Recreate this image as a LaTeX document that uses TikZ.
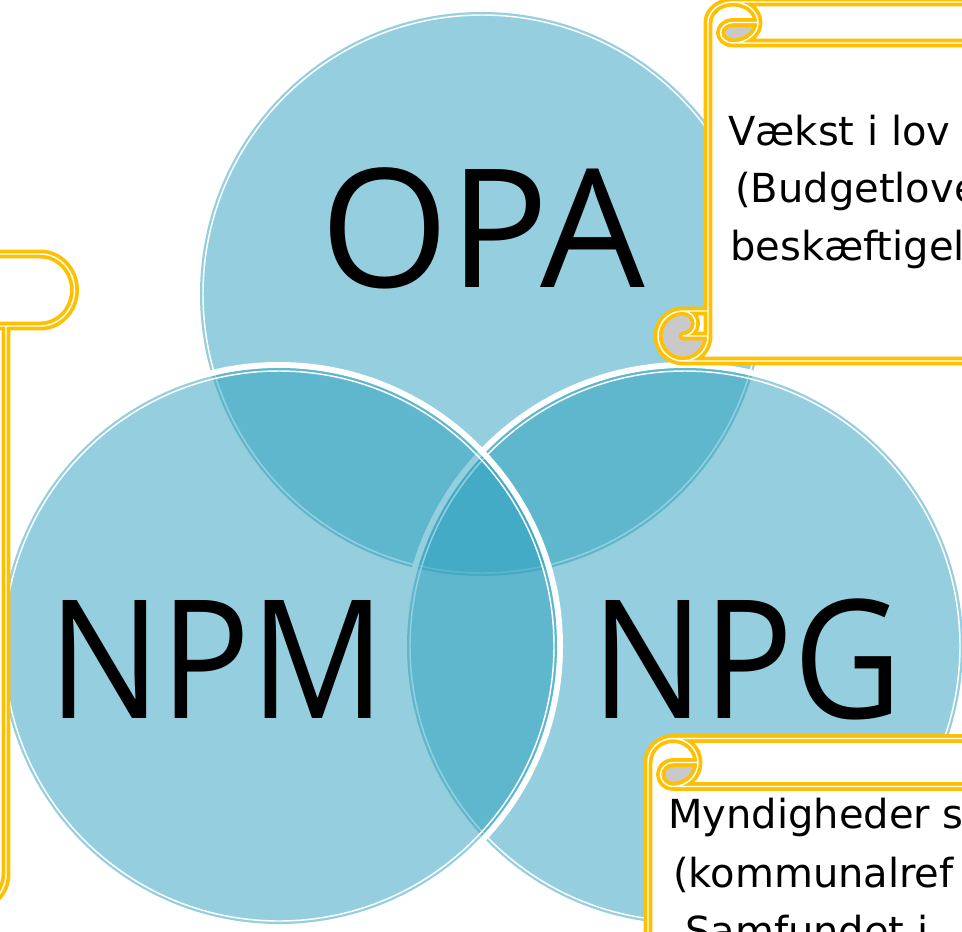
\documentclass[tikz,border=0pt]{standalone}
\usepackage{fontspec}
\newfontfamily\labelfont{Open Sans}
\newfontfamily\handfont{DejaVu Sans}
\definecolor{venn}{RGB}{39,158,189}
\definecolor{gold}{RGB}{255,192,0}
\definecolor{curlgrey}{RGB}{201,201,201}

\tikzset{
  ringband/.style={white, line width=4.5pt},
  vennfill/.style={fill=venn, fill opacity=0.49},
  ringinner/.style={white, line width=1.1pt},
  biglabel/.style={anchor=base, inner sep=0pt, font=\labelfont\fontsize{124}{124}\selectfont},
  narrowlabel/.style={biglabel, xscale=0.905},
  scrollline/.style={draw=gold, double=white, line width=2.8pt, double distance=1.1pt, line join=round},
  scrolltext/.style={anchor=base west, inner sep=0pt, font=\handfont\fontsize{30}{30}\selectfont},
}

% one translucent set circle: white outer band, fill, thin inner white ring
\newcommand\vennset[3]{%
  \draw[ringband] (#1,#2) circle[radius=#3+3];
  \fill[vennfill] (#1,#2) circle[radius=#3];
  \draw[ringinner] (#1,#2) circle[radius=#3-3];
}

% vertical scroll: left, top, right, bottom, roll width, top roll height, bottom roll height
\newcommand\vscroll[7]{%
  \pgfmathsetmacro\skCxh{#5/2}\pgfmathsetmacro\skCxq{#5/4}%
  \pgfmathsetmacro\skCyth{#6/2}\pgfmathsetmacro\skCytq{#6/4}%
  \pgfmathsetmacro\skCybh{#7/2}\pgfmathsetmacro\skCybq{#7/4}%
  \pgfmathsetmacro\skXq{#1+#5/2}\pgfmathsetmacro\skXh{#1+#5}%
  \pgfmathsetmacro\skXc{#1+1.5*#5}\pgfmathsetmacro\skXd{#1+2*#5}%
  \pgfmathsetmacro\skXf{#3-#5}\pgfmathsetmacro\skXg{#3-#5/2}%
  \pgfmathsetmacro\skYa{#2+#6/2}\pgfmathsetmacro\skYb{#2+#6}%
  \pgfmathsetmacro\skYc{#4-#7}\pgfmathsetmacro\skYd{#4-#7/2}%
  % paper
  \fill[white] (\skXh,\skYc) -- (\skXh,\skYa)
    arc[start angle=180,end angle=270,x radius=\skCxh,y radius=\skCyth] -- (\skXg,#2)
    arc[start angle=270,end angle=450,x radius=\skCxh,y radius=\skCyth] -- (\skXf,\skYb) -- (\skXf,\skYd)
    arc[start angle=0,end angle=90,x radius=\skCxh,y radius=\skCybh] -- (\skXq,#4)
    arc[start angle=90,end angle=270,x radius=\skCxh,y radius=\skCybh] -- cycle;
  % shaded insides of the two curls
  \fill[curlgrey] (\skXd,\skYa)
    arc[start angle=0,end angle=90,x radius=\skCxh,y radius=\skCyth]
    arc[start angle=90,end angle=270,x radius=\skCxq,y radius=\skCytq] -- cycle;
  \fill[curlgrey] (\skXh,\skYd)
    arc[start angle=0,end angle=270,x radius=\skCxh,y radius=\skCybh]
    arc[start angle=270,end angle=450,x radius=\skCxq,y radius=\skCybq] -- cycle;
  % outline
  \draw[scrollline] (\skXh,\skYc) -- (\skXh,\skYa)
    arc[start angle=180,end angle=270,x radius=\skCxh,y radius=\skCyth] -- (\skXg,#2)
    arc[start angle=270,end angle=450,x radius=\skCxh,y radius=\skCyth] -- (\skXf,\skYb) -- (\skXf,\skYd)
    arc[start angle=0,end angle=90,x radius=\skCxh,y radius=\skCybh] -- (\skXq,#4)
    arc[start angle=90,end angle=270,x radius=\skCxh,y radius=\skCybh] -- cycle
    (\skXc,#2) arc[start angle=270,end angle=450,x radius=\skCxh,y radius=\skCyth]
      arc[start angle=90,end angle=270,x radius=\skCxq,y radius=\skCytq] -- (\skXd,\skYa)
    (\skXf,\skYb) -- (\skXc,\skYb)
    (\skXq,\skYc) arc[start angle=270,end angle=450,x radius=\skCxq,y radius=\skCybq] -- (\skXh,\skYd)
    (\skXq,#4) arc[start angle=90,end angle=0,x radius=\skCxh,y radius=\skCybh] -- (\skXh,\skYc);
}

\begin{document}
\begin{tikzpicture}[x=0.75pt, y=-0.75pt]
  \path[use as bounding box, clip] (0,0) rectangle (962,931);

  % the three sets
  \vennset{482}{294}{282}
  \vennset{685}{646}{278}
  \vennset{279}{646}{278}

  \node[biglabel] (opa) at (483,287) {OPA};
  \node[narrowlabel] (npm) at (217,718) {NPM};
  \node[narrowlabel] (npg) at (747,718) {NPG};

  % scrolls
  \vscroll{-600}{254}{74.5}{908}{68.5}{72}{68}
  \vscroll{658}{2}{1150}{361}{50}{41}{50}
  \vscroll{598}{738.5}{1150}{1300}{50}{48}{48}

  \node[scrolltext] (tr1) at (728,145) {Vækst i lov};
  \node[scrolltext] (tr2) at (735,202.5) {(Budgetlove};
  \node[scrolltext] (tr3) at (730,260) {beskæftigel};

  \node[scrolltext] (br1) at (668,828) {Myndigheder s};
  \node[scrolltext] (br2) at (673,887) {(kommunalref};
  \node[scrolltext] (br3) at (685,945) {Samfundet i};
\end{tikzpicture}
\end{document}
